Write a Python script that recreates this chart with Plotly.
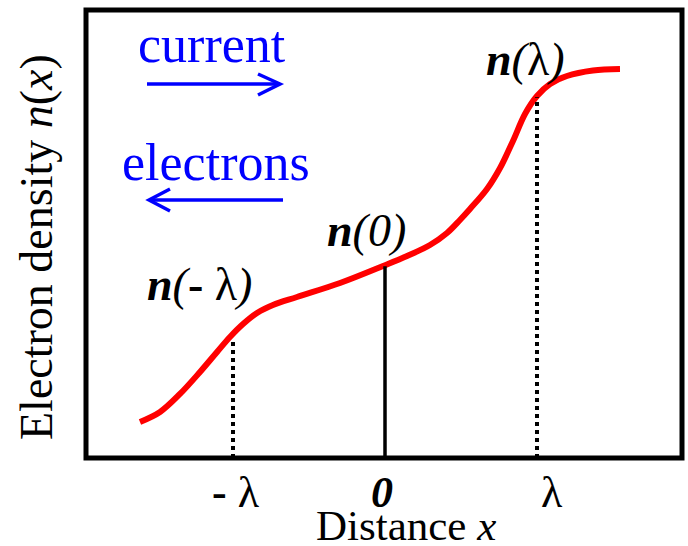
import plotly.graph_objects as go

# ---- data (x in units of lambda, y in arbitrary density units) ----
curve_x = [-1.612, -1.480, -1.349, -1.217, -1.105, -1.020, -0.934, -0.842, -0.737, -0.579,
           -0.296, -0.013, 0.145, 0.296, 0.408, 0.493, 0.559, 0.671, 0.757, 0.842,
           0.921, 1.000, 1.086, 1.197, 1.368, 1.546]
curve_y = [0.804, 1.027, 1.429, 1.920, 2.366, 2.701, 2.991, 3.237, 3.415, 3.594,
           3.906, 4.286, 4.509, 4.754, 5.022, 5.313, 5.558, 6.004, 6.473, 7.076,
           7.679, 8.080, 8.348, 8.527, 8.650, 8.683]
mark_x = [-1, 0, 1]
mark_y = [2.66, 4.28, 8.05]
mark_dash = ["4px,4px", "solid", "4px,4px"]
tick_text = ["<b>-</b> λ", "<b><i>0</i></b>", "λ"]

W, H = 688, 546
L, R, T, B = 86, 6, 10, 88
PW, PH = W - L - R, H - T - B
X0PX, XSCALE = 385, 152          # pixel of x=0 and pixels per lambda
XR = [(L - X0PX) / XSCALE, (W - R - X0PX) / XSCALE]
YR = [0, 10]


def px(x, y):
    """pixel -> paper coords"""
    return (x - L) / PW, (H - B - y) / PH


FONT = "Liberation Serif, Times New Roman, serif"

fig = go.Figure()
fig.add_trace(go.Scatter(x=curve_x, y=curve_y, mode="lines",
                         line=dict(color="#FF0000", width=6, shape="spline", smoothing=1),
                         hoverinfo="skip", showlegend=False))
for mx, my, d in zip(mark_x, mark_y, mark_dash):
    fig.add_trace(go.Scatter(x=[mx, mx], y=[YR[0], my], mode="lines",
                             line=dict(color="black", width=4 if d != "solid" else 3.5, dash=d),
                             hoverinfo="skip", showlegend=False))

annotations = []


def ann(text, x, y, size, color="black", angle=0):
    xp, yp = px(x, y)
    annotations.append(dict(text=text, x=xp, y=yp, xref="paper", yref="paper",
                            showarrow=False, xanchor="center", yanchor="middle",
                            textangle=angle,
                            font=dict(family=FONT, size=size, color=color)))


ann("current", 212, 44.5, 52, "#0000FF")
ann("electrons", 216, 162.5, 52, "#0000FF")
ann("<b><i>n</i></b><i>(</i><b>-</b> λ<i>)</i>", 199, 284.5, 46)
ann("<b><i>n</i></b><i>(0)</i>", 366, 230.5, 46)
ann("<b><i>n</i></b><i>(</i>λ<i>)</i>", 525, 59.5, 46)
tick_px = [235.5, 381.5, 551.5]
for t, tx in zip(tick_text, tick_px):
    ann(t, tx, 492.5, 44)
ann("Distance <i>x</i>", 406, 525, 43)
ann("Electron density <i>n</i>(<i>x</i>)", 36, 247, 46, angle=-90)

shapes = [dict(type="rect", xref="paper", yref="paper", x0=0, y0=0, x1=1, y1=1,
               line=dict(color="black", width=5), layer="above")]


def path(points):
    s = ""
    for i, (x, y) in enumerate(points):
        xp, yp = px(x, y)
        s += ("M" if i == 0 else "L") + f"{xp:.5f},{yp:.5f} "
    return s.strip()


blue_line = dict(color="#0000FF", width=3.5)
for pts in ([(147, 84), (280, 84)], [(258, 74), (280, 84), (258, 95)],
            [(283, 200), (149, 200)], [(170, 189), (149, 200), (170, 211)]):
    shapes.append(dict(type="path", xref="paper", yref="paper", path=path(pts),
                       line=blue_line))

fig.update_layout(
    width=W, height=H, margin=dict(l=L, r=R, t=T, b=B),
    paper_bgcolor="white", plot_bgcolor="white",
    xaxis=dict(range=XR, visible=False, fixedrange=True),
    yaxis=dict(range=YR, visible=False, fixedrange=True),
    annotations=annotations, shapes=shapes, showlegend=False,
)
fig.write_html("out.html", config={"displayModeBar": False},
               post_script="document.body.style.margin='0px';document.body.style.overflow='hidden';")
